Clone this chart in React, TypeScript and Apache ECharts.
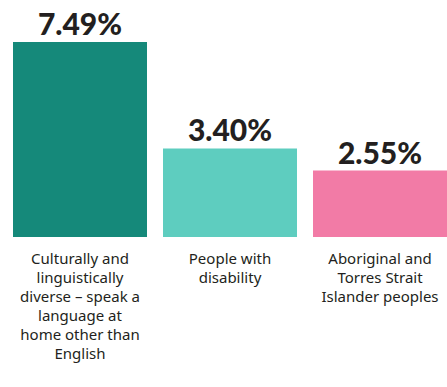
import React, { useEffect, useRef } from "react";
import * as echarts from "echarts";

const categories = [
  "Culturally and\nlinguistically\ndiverse – speak a\nlanguage at\nhome other than\nEnglish",
  "People with\ndisability",
  "Aboriginal and\nTorres Strait\nIslander peoples",
];
const values = [7.49, 3.4, 2.55];
const colors = ["#15897a", "#5ecdbf", "#f27ba6"];

export default function App() {
  const ref = useRef<HTMLDivElement>(null);
  useEffect(() => {
    const chart = echarts.init(ref.current!, null, { renderer: "svg" });
    chart.setOption({
      animation: false,
      backgroundColor: "#ffffff",
      grid: { left: 5, top: 42, width: 450, bottom: 150, containLabel: false },
      xAxis: {
        type: "category",
        data: categories,
        axisLine: { show: false },
        axisTick: { show: false },
        axisLabel: {
          interval: 0,
          margin: 11,
          color: "#231f20",
          fontFamily: "Noto Sans",
          fontSize: 15,
          lineHeight: 19,
          align: "center",
        },
      },
      yAxis: {
        type: "value",
        min: 0,
        max: 7.49,
        show: false,
        splitLine: { show: false },
      },
      series: [
        {
          type: "bar",
          barWidth: 134,
          data: values.map((v, i) => ({ value: v, itemStyle: { color: colors[i] } })),
          label: {
            show: true,
            position: "top",
            distance: 4,
            formatter: (p: any) => p.value.toFixed(2) + "%",
            color: "#231f20",
            fontFamily: "Lato",
            fontWeight: 900,
            fontSize: 30,
          },
        },
      ],
    });
    return () => chart.dispose();
  }, []);
  return (
    <div
      style={{
        position: "absolute",
        left: 0,
        top: 0,
        width: 447,
        height: 387,
        overflow: "hidden",
        background: "#ffffff",
      }}
    >
      <div ref={ref} style={{ width: 470, height: 387 }} />
    </div>
  );
}
